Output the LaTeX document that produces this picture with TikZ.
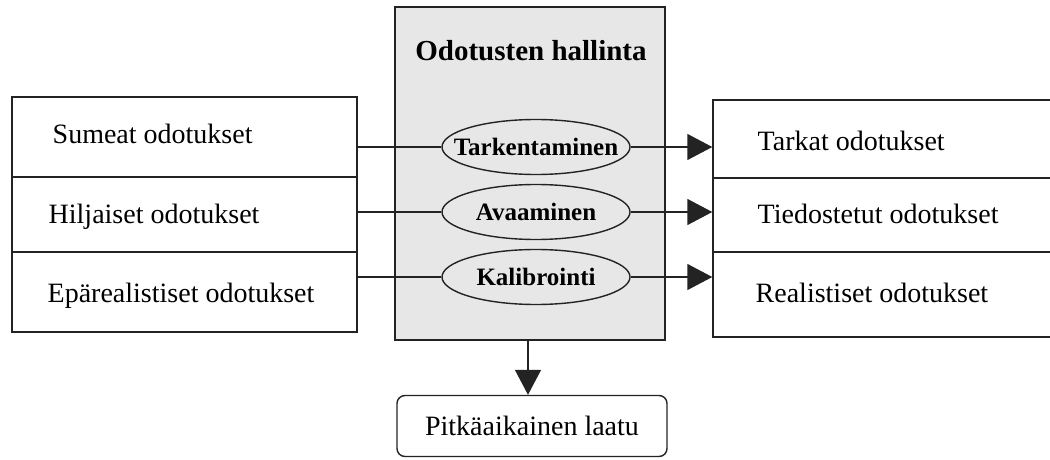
\documentclass[tikz,border=0pt]{standalone}
\usepackage{fontspec}
\setmainfont{Liberation Serif}
\usetikzlibrary{arrows.meta,shapes.geometric,calc}
\definecolor{boxgray}{RGB}{231,231,231}
\definecolor{linec}{RGB}{35,35,35}
\tikzset{
  cellbox/.style={draw=linec, rectangle, inner sep=0pt},
  txt/.style={inner sep=0pt, font=\fontsize{28}{33}\selectfont, text=black},
  ellbox/.style={draw=linec, fill=boxgray, ellipse, inner xsep=-17pt, inner ysep=0pt,
    minimum width=188, minimum height=55,
    font=\fontsize{25}{29}\selectfont\bfseries},
  arr/.style={-{Triangle[length=25pt,width=26pt]}},
  conn/.style={draw=linec}
}
\begin{document}
\begin{tikzpicture}[x=1pt,y=-1pt, line width=1.4pt]
\useasboundingbox (0,0) rectangle (1050,460);
\clip (0,0) rectangle (1050,460);
% left column
\node[cellbox, minimum width=345, minimum height=80] (L1) at (184.5,137) {};
\node[cellbox, minimum width=345, minimum height=75] (L2) at (184.5,214.5) {};
\node[cellbox, minimum width=345, minimum height=80] (L3) at (184.5,292) {};
\node[txt, anchor=base west] (l1t) at (52,143) {Sumeat odotukset};
\node[txt, anchor=base west] (l2t) at (48,223) {Hiljaiset odotukset};
\node[txt, anchor=base west] (l3t) at (47,302) {Epärealistiset odotukset};
% right column
\node[cellbox, minimum width=347, minimum height=78] (R1) at (886.5,139) {};
\node[cellbox, minimum width=347, minimum height=74] (R2) at (886.5,215) {};
\node[cellbox, minimum width=347, minimum height=85] (R3) at (886.5,294.5) {};
\node[txt, anchor=base west] (r1t) at (757,150) {Tarkat odotukset};
\node[txt, anchor=base west] (r2t) at (757,223) {Tiedostetut odotukset};
\node[txt, anchor=base west] (r3t) at (755,302) {Realistiset odotukset};
% center
\node[draw=linec, fill=boxgray, rectangle, inner sep=0pt, minimum width=270, minimum height=333] (C) at (530,173.5) {};
\node[txt, anchor=base, font=\fontsize{29}{34}\selectfont\bfseries] (title) at (531,60) {Odotusten hallinta};
\node[ellbox] (E1) at (536,147) {Tarkentaminen};
\node[ellbox] (E2) at (536,212) {Avaaminen};
\node[ellbox] (E3) at (536,277) {Kalibrointi};
% bottom
\node[draw=linec, rounded corners=8pt, inner sep=0pt, minimum width=270, minimum height=61,
  font=\fontsize{28}{33}\selectfont] (P) at (532,426) {Pitkäaikainen laatu};
% connectors
\draw[conn] (L1.east |- E1.west) -- (E1.west);
\draw[conn] (L2.east |- E2.west) -- (E2.west);
\draw[conn] (L3.east |- E3.west) -- (E3.west);
\draw[conn, arr] (E1.east) -- (E1.east -| R1.west);
\draw[conn, arr] (E2.east) -- (E2.east -| R2.west);
\draw[conn, arr] (E3.east) -- (E3.east -| R3.west);
\draw[conn, arr] ([xshift=-2pt]C.south) -- ([xshift=-2pt]C.south |- P.north);
\end{tikzpicture}
\end{document}
